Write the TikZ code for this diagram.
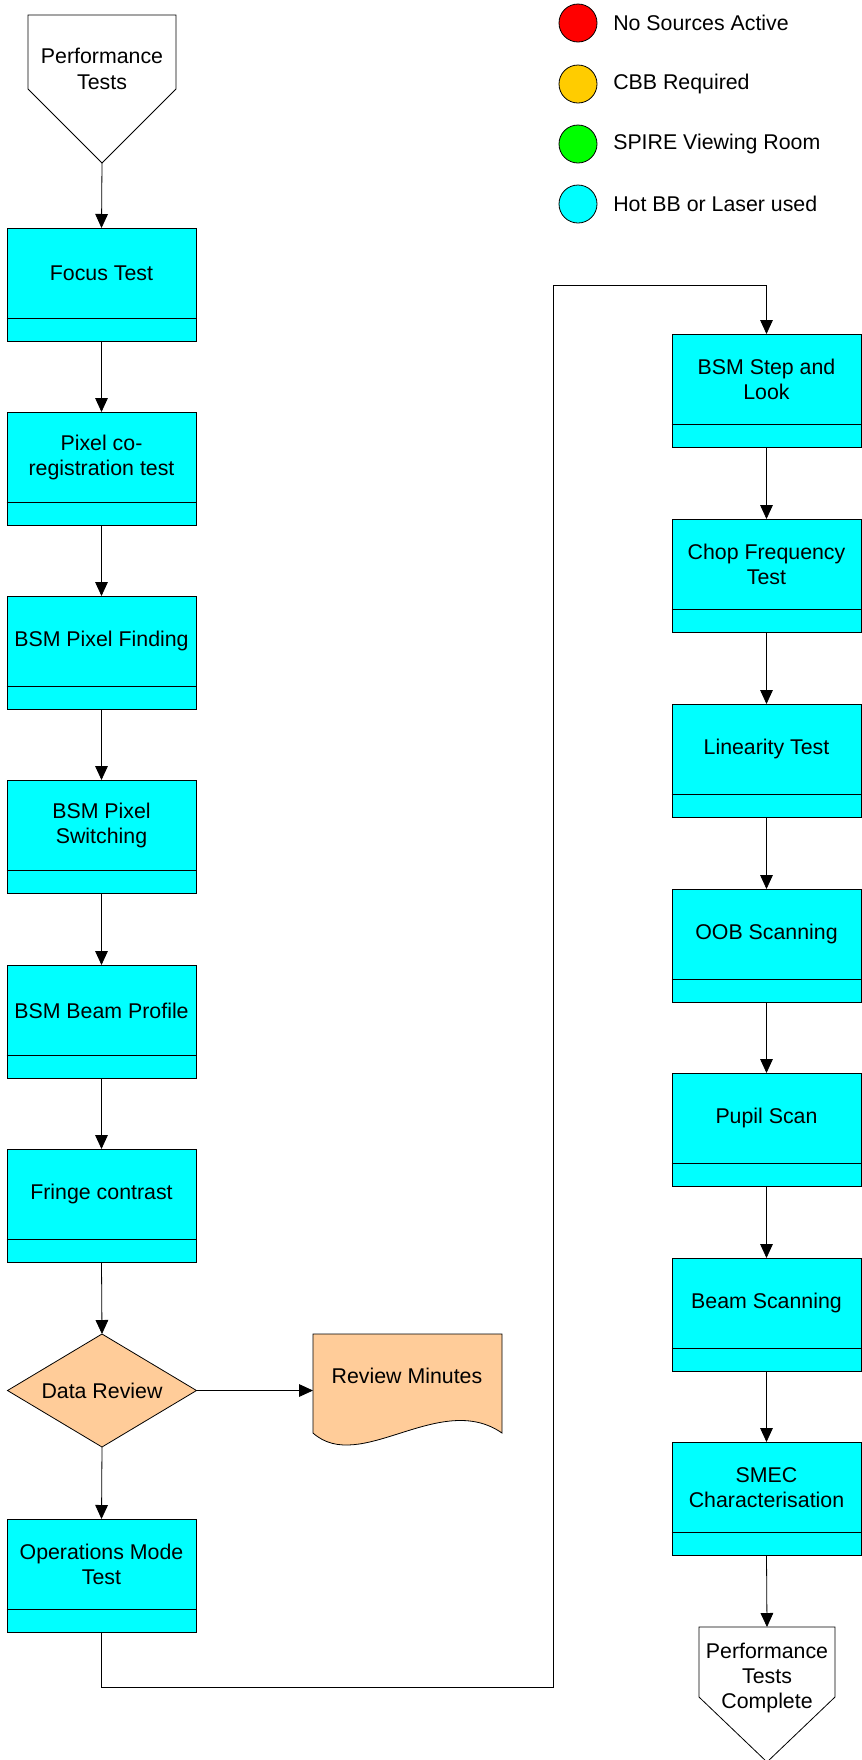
\documentclass[tikz,border=0pt]{standalone}
\usepackage{fontspec}
\setmainfont{Liberation Sans}
\usetikzlibrary{shapes.geometric,arrows.meta,calc}
\definecolor{boxcyan}{RGB}{0,255,255}
\definecolor{peach}{RGB}{255,204,153}
\definecolor{legred}{RGB}{255,0,0}
\definecolor{leggold}{RGB}{255,204,0}
\definecolor{leggreen}{RGB}{0,255,0}
\newcommand\procbox[4]{%
  \node[pbox] (#1) at (#2,#3) {};
  \draw[ln] ([yshift=17.25pt]#1.south west) -- ([yshift=17.25pt]#1.south east);
  \node[ptxt] (#1-t) at ([yshift=8.6pt]#1.center) {#4};
}
\begin{document}
\begin{tikzpicture}[x=0.75pt,y=-0.75pt,
  every node/.style={font=\fontsize{16}{19}\selectfont},
  ln/.style={draw=black,line width=0.6pt},
  arr/.style={ln,-{Triangle[length=10.5pt,width=9.5pt]}},
  pbox/.style={ln,fill=boxcyan,rectangle,minimum width=141.75pt,minimum height=84.75pt,inner sep=0pt,anchor=north},
  frame/.style={rectangle,minimum width=141.75pt,minimum height=84.75pt,inner sep=0pt,outer sep=0pt,anchor=north},
  ptxt/.style={align=center,inner sep=0pt},
  leg/.style={ln,circle,minimum size=28.5pt,inner sep=0pt},
  legt/.style={anchor=west,inner sep=0pt}
  ]
\useasboundingbox (0,0) rectangle (862,1760);

% legend
\node[leg,fill=legred] (l1) at (578,23) {};
\node[legt] (l1-t) at (613,23) {No Sources Active};
\node[leg,fill=leggold] (l2) at (578,84) {};
\node[legt] (l2-t) at (613,84) {CBB Required};
\node[leg,fill=leggreen] (l3) at (578,144) {};
\node[legt] (l3-t) at (613,144) {SPIRE Viewing Room};
\node[leg,fill=boxcyan] (l4) at (578,204) {};
\node[legt] (l4-t) at (613,204) {Hot BB or Laser used};

% start
\draw[ln,fill=white] (28,15) -- (176,15) -- (176,89) -- (102,163) -- (28,89) -- cycle;
\coordinate (starttip) at (102,163);
\node[ptxt] (start) at (102,69) {Performance\\Tests};

% left column
\procbox{focus}{101.5}{228}{Focus Test}
\procbox{pixel}{101.5}{412}{Pixel co-\\registration test}
\procbox{find}{101.5}{596}{BSM Pixel Finding}
\procbox{switch}{101.5}{780}{BSM Pixel\\Switching}
\procbox{profile}{101.5}{965}{BSM Beam Profile}
\procbox{fringe}{101.5}{1149}{Fringe contrast}

% decision
\node[frame] (review) at (102,1334) {};
\draw[ln,fill=peach] (review.north) -- (review.east) -- (review.south) -- (review.west) -- cycle;
\node[ptxt] (review-t) at (review.center) {Data Review};

% document
\node[frame] (minutes) at (407.5,1334) {};
\draw[ln,fill=peach] (313,1334) -- (502,1334) -- (502,1433) .. controls (440,1390) and (360,1475) .. (313,1433) -- cycle;
\node[ptxt] (minutes-t) at (407,1376) {Review Minutes};

\procbox{ops}{101.5}{1519}{Operations Mode\\Test}

% right column
\procbox{step}{766.5}{334}{BSM Step and\\Look}
\procbox{chop}{766.5}{519}{Chop Frequency\\Test}
\procbox{lin}{766.5}{704}{Linearity Test}
\procbox{oob}{766.5}{889}{OOB Scanning}
\procbox{pupil}{766.5}{1073}{Pupil Scan}
\procbox{beam}{766.5}{1258}{Beam Scanning}
\procbox{smec}{766.5}{1442}{SMEC\\Characterisation}

% end
\draw[ln,fill=white] (699,1627) -- (835,1627) -- (835,1697) -- (767,1762) -- (699,1697) -- cycle;
\coordinate (endtop) at (767,1627);
\node[ptxt] (end) at (767,1678) {Performance\\Tests\\Complete};

% connectors
\draw[arr] (starttip) -- (focus.north);
\draw[arr] (focus.south) -- (pixel.north);
\draw[arr] (pixel.south) -- (find.north);
\draw[arr] (find.south) -- (switch.north);
\draw[arr] (switch.south) -- (profile.north);
\draw[arr] (profile.south) -- (fringe.north);
\draw[arr] (fringe.south) -- (review.north);
\draw[arr] (review.east) -- (minutes.west);
\draw[arr] (review.south) -- (ops.north);
\coordinate (loopa) at (553,1687);
\coordinate (loopb) at (553,285);
\draw[arr] (ops.south) |- (loopa) -- (loopb) -| (step.north);
\draw[arr] (step.south) -- (chop.north);
\draw[arr] (chop.south) -- (lin.north);
\draw[arr] (lin.south) -- (oob.north);
\draw[arr] (oob.south) -- (pupil.north);
\draw[arr] (pupil.south) -- (beam.north);
\draw[arr] (beam.south) -- (smec.north);
\draw[arr] (smec.south) -- (endtop);
\end{tikzpicture}
\end{document}
